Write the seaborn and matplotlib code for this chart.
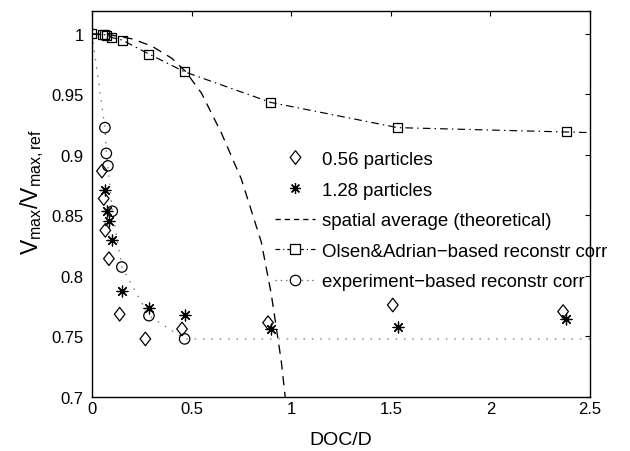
import numpy as np
import pandas as pd
import matplotlib
matplotlib.use("Agg")
import matplotlib.pyplot as plt
from matplotlib.path import Path
from matplotlib.lines import Line2D
import seaborn as sns

# ---------------- data ----------------
p056_x = [0.050, 0.059, 0.067, 0.085, 0.139, 0.268, 0.452, 0.884, 1.51, 2.365]
p056_y = [0.8867, 0.864, 0.8377, 0.8143, 0.7684, 0.748, 0.7562, 0.7614, 0.776, 0.7706]

p128_x = [0.0635, 0.075, 0.084, 0.100, 0.152, 0.286, 0.465, 0.897, 1.535, 2.38]
p128_y = [0.8709, 0.854, 0.8458, 0.830, 0.7877, 0.7739, 0.7678, 0.7562, 0.7576, 0.7645]

spatial_x = [0, 0.1, 0.2, 0.3, 0.4, 0.47, 0.55, 0.65, 0.75, 0.85, 0.9, 0.95, 0.97, 0.99]
spatial_y = [1, 0.999, 0.996, 0.99, 0.98, 0.969, 0.951, 0.918, 0.88, 0.828, 0.785, 0.73, 0.70, 0.67]

olsen_x = [0, 0.055, 0.065, 0.075, 0.100, 0.152, 0.286, 0.465, 0.898, 1.535, 2.38]
olsen_y = [1, 0.9995, 0.9993, 0.999, 0.997, 0.995, 0.9834, 0.9687, 0.9434, 0.9226, 0.919]
olsen_curve_x = olsen_x + [2.5]
olsen_curve_y = olsen_y + [0.9185]

exp_x = [0.065, 0.072, 0.080, 0.102, 0.150, 0.286, 0.465]
exp_y = [0.9226, 0.9013, 0.891, 0.8535, 0.8074, 0.7672, 0.748]
exp_curve_x = [0] + exp_x + [2.5]
exp_curve_y = [1] + exp_y + [0.748]

labels = ["0.56 particles", "1.28 particles", "spatial average (theoretical)",
          "Olsen&Adrian\u2212based reconstr corr", "experiment\u2212based reconstr corr"]
xticks = [0, 0.5, 1, 1.5, 2, 2.5]
xticklabels = ["0", "0.5", "1", "1.5", "2", "2.5"]
yticks = [0.7, 0.75, 0.8, 0.85, 0.9, 0.95, 1]
yticklabels = ["0.7", "0.75", "0.8", "0.85", "0.9", "0.95", "1"]

# ---------------- style ----------------
sns.set_style("white")
plt.rcParams['font.family'] = ['Liberation Sans', 'DejaVu Sans']
plt.rcParams['mathtext.fontset'] = 'custom'
plt.rcParams['mathtext.rm'] = 'Liberation Sans'
plt.rcParams['mathtext.it'] = 'Liberation Sans'
plt.rcParams['text.color'] = 'black'
plt.rcParams['axes.labelcolor'] = 'black'
plt.rcParams['xtick.color'] = 'black'
plt.rcParams['ytick.color'] = 'black'

fig = plt.figure(figsize=(6.3, 4.52), dpi=100)
ax = fig.add_axes([0.146, 0.1195, 0.7905, 0.854])

diamond = Path([(0, -0.5), (0.39, 0), (0, 0.5), (-0.39, 0), (0, -0.5)],
               [Path.MOVETO, Path.LINETO, Path.LINETO, Path.LINETO, Path.CLOSEPOLY])
star = (8, 2, 0)

df_sp = pd.DataFrame({"x": spatial_x, "y": spatial_y})
df_ol = pd.DataFrame({"x": olsen_curve_x, "y": olsen_curve_y})
df_ex = pd.DataFrame({"x": exp_curve_x, "y": exp_curve_y})

sns.lineplot(data=df_sp, x="x", y="y", ax=ax, color="black", lw=0.95, estimator=None)
ax.lines[-1].set_dashes((7, 5))
sns.lineplot(data=df_ol, x="x", y="y", ax=ax, color="black", lw=0.85, estimator=None)
ax.lines[-1].set_dashes((6.5, 3.5, 1.2, 3.5))
sns.lineplot(data=df_ex, x="x", y="y", ax=ax, color="0.45", lw=0.9, estimator=None)
ax.lines[-1].set_dashes((1.2, 5.5))

sns.scatterplot(x=olsen_x, y=olsen_y, ax=ax, marker="s", s=6.5**2,
                facecolor="none", edgecolor="black", linewidth=0.9, zorder=3)
sns.scatterplot(x=exp_x, y=exp_y, ax=ax, marker="o", s=7.5**2,
                facecolor="none", edgecolor="black", linewidth=0.9, zorder=3)
sns.scatterplot(x=p056_x, y=p056_y, ax=ax, marker=diamond, s=9.8**2,
                facecolor="none", edgecolor="black", linewidth=0.9, zorder=3)
sns.scatterplot(x=p128_x, y=p128_y, ax=ax, marker=star, s=7.8**2,
                color="black", edgecolor="black", linewidth=0.9, zorder=3)

ax.set_xlim(0, 2.5)
ax.set_ylim(0.7, 1.019)
ax.set_xticks(xticks)
ax.set_xticklabels(xticklabels)
ax.set_yticks(yticks)
ax.set_yticklabels(yticklabels)
ax.tick_params(direction="in", length=3.6, width=0.8, top=True, right=True,
               labelsize=12, colors="black")
ax.tick_params(axis="x", pad=3)
ax.tick_params(axis="y", pad=6)
for sp in ax.spines.values():
    sp.set_visible(True)
    sp.set_color("black")
    sp.set_linewidth(1.0)

ax.set_xlabel("DOC/D", fontsize=14, labelpad=11)
ax.set_ylabel(r"$\mathregular{V_{max}/V_{max,ref}}$", fontsize=16.5)
ax.yaxis.set_label_coords(-0.092, 0.535)

handles = [
    Line2D([], [], ls="none", marker=diamond, ms=9.8, mfc="none", mec="black", mew=0.9),
    Line2D([], [], ls="none", marker=star, ms=7.8, color="black", mew=0.9),
    Line2D([], [], color="black", lw=0.95, dashes=(4, 3)),
    Line2D([], [], color="black", lw=0.85, dashes=(4, 2.5, 1, 2.5), marker="s", ms=6.5,
           mfc="white", mec="black", mew=0.9),
    Line2D([], [], color="0.45", lw=0.9, dashes=(1.2, 3), marker="o", ms=7.5,
           mfc="white", mec="black", mew=0.9),
]
leg = ax.legend(handles, labels, loc="upper left", bbox_to_anchor=(0.4365, 0.664),
                bbox_transform=fig.transFigure, frameon=False, fontsize=13.4,
                handlelength=2.15, handletextpad=0.37, labelspacing=0.73,
                borderpad=0, borderaxespad=0)

fig.savefig("out.png", dpi=100)
